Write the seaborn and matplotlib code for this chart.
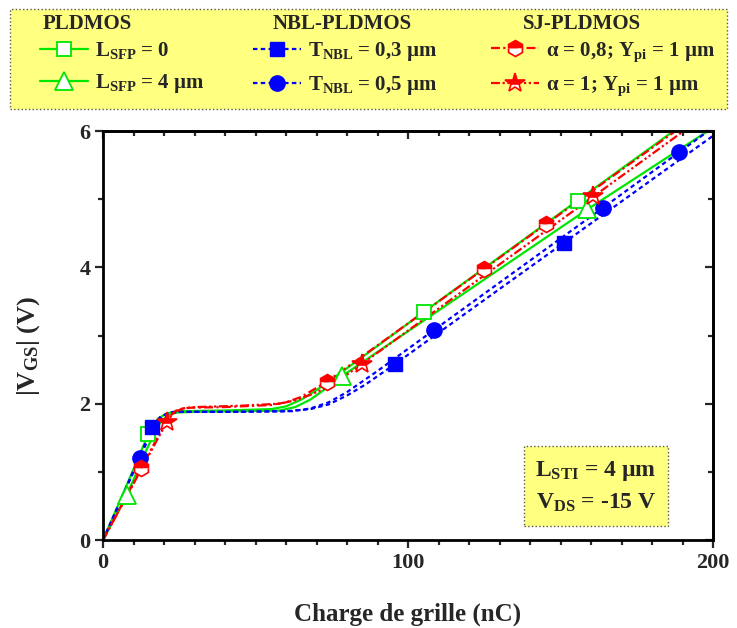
import matplotlib
matplotlib.use("Agg")
import matplotlib.pyplot as plt
from matplotlib.lines import Line2D
from matplotlib.patches import Rectangle
from matplotlib.ticker import MultipleLocator
import seaborn as sns

# Données : charge de grille (nC) et |VGS| (V)
q_sfp0 = [0, 5, 10, 14.9, 18, 21, 25, 40, 55, 60, 65, 70, 80, 105.3, 155.6, 188]
v_sfp0 = [0, 0.52, 1.04, 1.56, 1.78, 1.86, 1.89, 1.9, 1.92, 1.96, 2.06, 2.2, 2.52, 3.35, 4.98, 6.03]
q_sfp4 = [0, 8, 14, 18, 21, 24, 30, 45, 58, 63, 68, 73, 78.2, 120, 158.8, 199]
v_sfp4 = [0, 0.68, 1.3, 1.68, 1.82, 1.87, 1.88, 1.89, 1.9, 1.95, 2.06, 2.22, 2.4, 3.67, 4.85, 6.02]
q_nbl3 = [0, 5, 10, 16.2, 19, 23, 40, 60, 68, 74, 80, 86, 95.7, 151.1, 200]
v_nbl3 = [0, 0.5, 1.02, 1.66, 1.82, 1.88, 1.88, 1.89, 1.92, 1.99, 2.12, 2.28, 2.58, 4.36, 5.93]
q_nbl5 = [0, 6, 12.1, 17, 21, 25, 45, 62, 68, 74, 80, 90, 108.5, 163.8, 188.9, 200]
v_nbl5 = [0, 0.6, 1.21, 1.7, 1.85, 1.88, 1.88, 1.89, 1.93, 2.02, 2.17, 2.48, 3.08, 4.87, 5.69, 6.05]
q_sj08 = [0, 6, 12.5, 18, 21, 24, 28, 40, 55, 60, 65, 73.3, 125, 145.1, 188]
v_sj08 = [0, 0.5, 1.05, 1.52, 1.78, 1.9, 1.94, 1.95, 1.98, 2.02, 2.1, 2.32, 3.98, 4.63, 6.01]
q_sj1 = [0, 8, 14, 20.9, 23, 26, 30, 45, 58, 63, 68, 75, 84.8, 160.8, 191]
v_sj1 = [0, 0.66, 1.16, 1.73, 1.86, 1.93, 1.95, 1.97, 2.0, 2.05, 2.13, 2.27, 2.58, 5.04, 6.02]

# positions des symboles
mq_sfp0 = [14.9, 105.3, 155.6]
mv_sfp0 = [1.56, 3.35, 4.98]
mq_sfp4 = [8, 78.2, 158.8]
mv_sfp4 = [0.66, 2.40, 4.85]
mq_nbl3 = [16.2, 95.7, 151.1]
mv_nbl3 = [1.66, 2.58, 4.36]
mq_nbl5 = [12.1, 108.5, 163.8, 188.9]
mv_nbl5 = [1.21, 3.08, 4.87, 5.69]
mq_sj08 = [12.5, 73.3, 125, 145.1]
mv_sj08 = [1.05, 2.32, 3.98, 4.63]
mq_sj1 = [20.9, 84.8, 160.8]
mv_sj1 = [1.73, 2.58, 5.04]

labels = [r"$\mathrm{L_{SFP}}$ = 0", r"$\mathrm{L_{SFP}}$ = 4 µm",
          r"$\mathrm{T_{NBL}}$ = 0,3 µm", r"$\mathrm{T_{NBL}}$ = 0,5 µm",
          r"α = 0,8; $\mathrm{Y_{pi}}$ = 1 µm", r"α = 1; $\mathrm{Y_{pi}}$ = 1 µm"]
groups = ["PLDMOS", "NBL-PLDMOS", "SJ-PLDMOS"]

sns.set_style("ticks")
plt.rcParams["font.family"] = ["Liberation Serif", "DejaVu Serif"]
plt.rcParams["font.weight"] = "bold"
plt.rcParams["mathtext.fontset"] = "custom"
plt.rcParams["mathtext.rm"] = "Liberation Serif:bold"
plt.rcParams["mathtext.bf"] = "Liberation Serif:bold"
plt.rcParams["mathtext.it"] = "Liberation Serif:italic:bold"

green = "#00e600"
blue = "#0000ff"
red = "#ff0000"
yellow = "#ffff80"

styles = [
    dict(color=green, ls="-", marker="s", mfc="white", mec=green, ms=10.5, mew=1.3),
    dict(color=green, ls="-", marker="^", mfc="white", mec=green, ms=12.5, mew=1.3),
    dict(color=blue, ls=(0, (2, 1.5)), marker="s", mfc=blue, mec=blue, ms=10),
    dict(color=blue, ls=(0, (2, 1.5)), marker="o", mfc=blue, mec=blue, ms=11),
    dict(color=red, ls=(0, (4, 1.5, 1, 1.5)), marker="h", mfc=red, mec=red, ms=11.5,
         fillstyle="top", markerfacecoloralt="white", mew=1.2),
    dict(color=red, ls=(0, (4, 1.2, 1, 1.2, 1, 1.2)), marker="*", mfc=red, mec=red, ms=15,
         fillstyle="top", markerfacecoloralt="white", mew=1.2),
]
curves = [(q_sfp0, v_sfp0), (q_sfp4, v_sfp4), (q_nbl3, v_nbl3),
          (q_nbl5, v_nbl5), (q_sj08, v_sj08), (q_sj1, v_sj1)]
marks = [(mq_sfp0, mv_sfp0), (mq_sfp4, mv_sfp4), (mq_nbl3, mv_nbl3),
         (mq_nbl5, mv_nbl5), (mq_sj08, mv_sj08), (mq_sj1, mv_sj1)]

fig = plt.figure(figsize=(7.37, 6.28), dpi=100)
ax = fig.add_axes([0.1398, 0.1401, 0.8277, 0.6513])

for (q, v), st in zip(curves, styles):
    sns.lineplot(x=q, y=v, ax=ax, color=st["color"], linestyle=st["ls"], linewidth=1.6,
                 estimator=None, errorbar=None, sort=False, zorder=2)
for (q, v), st in zip(marks, styles):
    mk = {k: val for k, val in st.items() if k not in ("ls",)}
    ax.plot(q, v, linestyle="none", zorder=3, **mk)

ax.set_xlim(0, 200)
ax.set_ylim(0, 6)
ax.xaxis.set_major_locator(MultipleLocator(100))
ax.xaxis.set_minor_locator(MultipleLocator(10))
ax.yaxis.set_major_locator(MultipleLocator(2))
ax.yaxis.set_minor_locator(MultipleLocator(1))
ax.tick_params(which="both", direction="out", width=1.6, labelsize=16, pad=3)
ax.tick_params(which="major", length=6)
ax.tick_params(which="minor", length=3.5)
for lab in ax.get_xticklabels() + ax.get_yticklabels():
    lab.set_fontweight("bold")
for sp in ax.spines.values():
    sp.set_linewidth(2)
    sp.set_color("black")

# graduations intérieures en haut et à droite
top = ax.secondary_xaxis("top")
top.xaxis.set_major_locator(MultipleLocator(100))
top.xaxis.set_minor_locator(MultipleLocator(10))
top.tick_params(which="both", direction="in", width=1.6, labeltop=False)
top.tick_params(which="major", length=6)
top.tick_params(which="minor", length=3.5)
right = ax.secondary_yaxis("right")
right.yaxis.set_major_locator(MultipleLocator(2))
right.yaxis.set_minor_locator(MultipleLocator(1))
right.tick_params(which="both", direction="in", width=1.6, labelright=False)
right.tick_params(which="major", length=6)
right.tick_params(which="minor", length=3.5)
for s in (top, right):
    for sp in s.spines.values():
        sp.set_linewidth(2)

ax.set_xlabel("Charge de grille (nC)", fontsize=18, fontweight="bold", labelpad=22)
ax.set_ylabel(r"$\mathrm{|V_{GS}|}$ (V)", fontsize=19, fontweight="bold")
ax.yaxis.set_label_coords(-0.1, 0.474)

ax.text(0.808, 0.13, "$\\mathrm{L_{STI}}$ = 4 µm\n$\\mathrm{V_{DS}}$ = -15 V",
        transform=ax.transAxes, ha="center", va="center", fontsize=17,
        fontweight="bold", linespacing=1.5,
        bbox=dict(boxstyle="square,pad=0.5", facecolor=yellow, edgecolor="#555555",
                  linestyle=":", linewidth=1))

# cadre de la légende
fig.patches.append(Rectangle((10 / 737, 1 - 109 / 628), 717 / 737, 100 / 628,
                             transform=fig.transFigure, facecolor=yellow,
                             edgecolor="#555555", linestyle=":", linewidth=1))
for g, x0 in zip(groups, [43, 273, 523]):
    fig.text(x0 / 737, 1 - 24 / 628, g, fontsize=15, fontweight="bold",
             ha="left", va="center")

handles = [Line2D([], [], linewidth=1.6, linestyle=st["ls"], color=st["color"],
                  **{k: v for k, v in st.items() if k not in ("ls", "color")})
           for st in styles]
for i, x0 in enumerate([40, 253, 491]):
    leg = fig.legend(handles[2 * i:2 * i + 2], labels[2 * i:2 * i + 2],
                     loc="upper left", bbox_to_anchor=(x0 / 737, 1 - 40 / 628),
                     frameon=False, prop=dict(size=15, weight="bold"),
                     handlelength=2.3, handletextpad=0.35, labelspacing=0.55,
                     borderpad=0, borderaxespad=0)

fig.savefig("out.png", dpi=100)
